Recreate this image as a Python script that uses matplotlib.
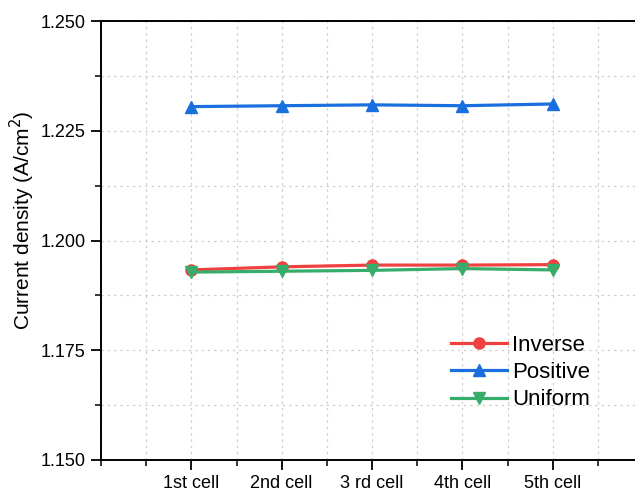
import matplotlib
matplotlib.use("Agg")
import matplotlib.pyplot as plt
from matplotlib.ticker import MultipleLocator

plt.rcParams['font.family'] = ['Liberation Sans', 'DejaVu Sans']

categories = ["1st cell", "2nd cell", "3 rd cell", "4th cell", "5th cell"]
inverse = [1.1933, 1.1940, 1.1944, 1.1944, 1.1945]
positive = [1.2305, 1.2307, 1.2309, 1.2307, 1.2311]
uniform = [1.1928, 1.1930, 1.1932, 1.1936, 1.1933]

fig = plt.figure(figsize=(6.35, 4.91), dpi=100)
W, H = 635, 491
left, right, top, bottom = 101, 643, 21, 460
ax = fig.add_axes([left / W, 1 - bottom / H, (right - left) / W, (bottom - top) / H])

x = list(range(1, len(categories) + 1))
ax.plot(x, inverse, color='#F14040', marker='o', ms=8, lw=2.3, label='Inverse')
ax.plot(x, positive, color='#1A6FDF', marker='^', ms=8, lw=2.3, label='Positive')
ax.plot(x, uniform, color='#37AD6B', marker='v', ms=8, lw=2.3, label='Uniform')

ax.set_xlim(0, 6)
ax.set_ylim(1.150, 1.250)
ax.set_xticks(x)
ax.set_xticklabels(categories, fontsize=13)
ax.xaxis.set_minor_locator(MultipleLocator(0.5))
ax.yaxis.set_minor_locator(MultipleLocator(0.0125))
ax.set_yticks([1.150, 1.175, 1.200, 1.225, 1.250])
ax.set_yticklabels(["1.150", "1.175", "1.200", "1.225", "1.250"], fontsize=13)
ax.set_ylabel('Current density (A/cm$^2$)', fontsize=15)
ax.yaxis.set_label_coords((37 - left) / (right - left), (bottom - 220) / (bottom - top))

ax.tick_params(axis='both', which='major', direction='out', length=7, width=1.3, pad=4)
ax.tick_params(axis='both', which='minor', direction='out', length=4, width=1.1)
ax.tick_params(axis='x', which='major', pad=4)
ax.tick_params(right=False, top=False)

ax.grid(True, which='both', linestyle=(0, (2, 3)), color='#d0d0d0', lw=0.9)
ax.set_axisbelow(True)
for s in ['left', 'bottom', 'top']:
    ax.spines[s].set_linewidth(1.4)
ax.spines['right'].set_visible(False)

ax.legend(loc='upper left', bbox_to_anchor=((451 - left) / (right - left), 1 - (335 - top) / (bottom - top)),
          frameon=False, fontsize=16, handlelength=2.5, labelspacing=0.28, handletextpad=0.25,
          borderaxespad=0, borderpad=0)

fig.savefig('out.png', dpi=100)
